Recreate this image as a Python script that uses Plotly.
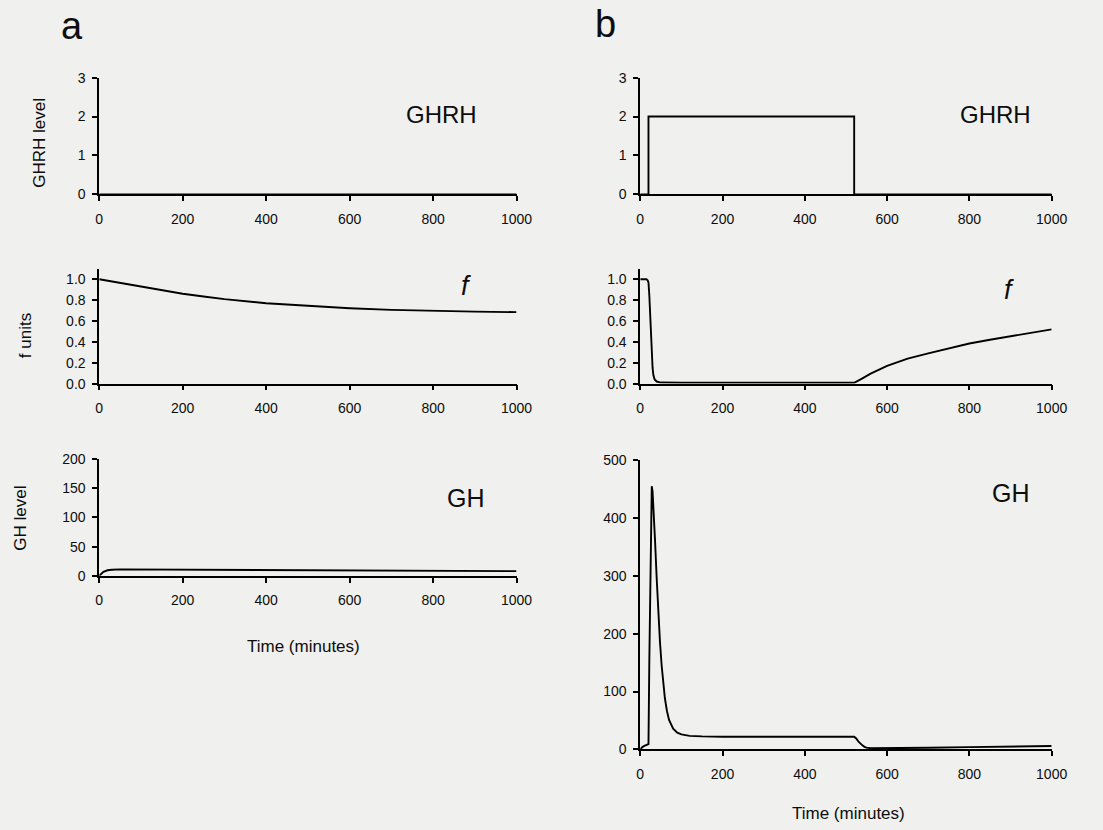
import plotly.graph_objects as go

W, H = 1103, 830

# ---- data -------------------------------------------------------------
# (a) no GHRH input
t_a_ghrh = [0, 1000]
ghrh_a = [0, 0]

t_a_f = [0, 50, 100, 150, 200, 250, 300, 400, 500, 600, 700, 800, 900, 1000]
f_a = [1.0, 0.965, 0.93, 0.895, 0.862, 0.835, 0.81, 0.77, 0.745, 0.723, 0.707, 0.697, 0.69, 0.685]

t_a_gh = [0, 5, 10, 20, 30, 50, 100, 200, 400, 600, 800, 1000]
gh_a = [0, 4.5, 7, 9.5, 10.5, 11, 10.8, 10.2, 9.5, 8.9, 8.4, 8.0]

# (b) GHRH pulse of level 2 from t=20 to t=520
t_b_ghrh = [0, 20, 20, 520, 520, 1000]
ghrh_b = [0, 0, 2, 2, 0, 0]

t_b_f = [0, 15, 18, 20, 22, 24, 26, 28, 30, 32, 35, 40, 50, 100, 520, 540, 560,
         600, 650, 700, 750, 800, 850, 900, 950, 1000]
f_b = [1.0, 1.0, 0.99, 0.97, 0.85, 0.65, 0.45, 0.28, 0.15, 0.08, 0.04, 0.02, 0.01,
       0.008, 0.008, 0.05, 0.095, 0.17, 0.24, 0.29, 0.34, 0.385, 0.42, 0.455, 0.49, 0.52]

t_b_gh = [0, 5, 10, 15, 20, 22, 24, 26, 28, 30, 32, 36, 40, 44, 48, 52, 56, 60, 65,
          70, 80, 90, 100, 120, 150, 200, 520, 525, 530, 535, 540, 545, 550, 560,
          600, 700, 800, 900, 1000]
gh_b = [0, 4, 6, 8, 9, 150, 290, 410, 455, 445, 420, 360, 295, 235, 185, 145, 112,
        88, 66, 51, 36, 29, 26, 23.5, 22.5, 22, 22, 19, 14, 10, 7, 4.5, 3, 2, 2, 3,
        4, 5, 6]

x_ticks = [0, 200, 400, 600, 800, 1000]

# ---- layout helpers (pixel positions -> paper fractions) -------------
def px_x(x):
    return x / W

def px_y(y):
    return 1 - y / H

LEFT = (97, 522)
RIGHT = (648, 1067)
ROWS_A = [(71, 190), (266, 383), (460, 579)]
ROWS_B = [(71, 190), (266, 383), (461, 756)]

FONT = "Arial, Liberation Sans, Helvetica, sans-serif"
BG = "#f0f0ee"
INK = "#0d0d0d"
TICK_SIZE = 14

fig = go.Figure()

panels = [
    # (xcols, rows, t, v, yrange, ytickvals, ytickformat)
    (LEFT, ROWS_A[0], t_a_ghrh, ghrh_a, [0, 3], [0, 1, 2, 3], None),
    (LEFT, ROWS_A[1], t_a_f, f_a, [0, 1.1], [0, 0.2, 0.4, 0.6, 0.8, 1.0], ".1f"),
    (LEFT, ROWS_A[2], t_a_gh, gh_a, [0, 200], [0, 50, 100, 150, 200], None),
    (RIGHT, ROWS_B[0], t_b_ghrh, ghrh_b, [0, 3], [0, 1, 2, 3], None),
    (RIGHT, ROWS_B[1], t_b_f, f_b, [0, 1.1], [0, 0.2, 0.4, 0.6, 0.8, 1.0], ".1f"),
    (RIGHT, ROWS_B[2], t_b_gh, gh_b, [0, 500], [0, 100, 200, 300, 400, 500], None),
]

for i, (xc, yr, t, v, rng, yt, fmt) in enumerate(panels, start=1):
    xa = "x" if i == 1 else f"x{i}"
    ya = "y" if i == 1 else f"y{i}"
    fig.add_trace(go.Scatter(x=t, y=v, mode="lines", xaxis=xa, yaxis=ya,
                             line=dict(color="black", width=1.9),
                             showlegend=False, hoverinfo="skip"))
    xkey = "xaxis" if i == 1 else f"xaxis{i}"
    ykey = "yaxis" if i == 1 else f"yaxis{i}"
    fig.update_layout(**{
        xkey: dict(domain=[px_x(xc[0]), px_x(xc[1])], anchor=ya, range=[0, 1000],
                   tickvals=x_ticks, showline=True, linecolor="black", linewidth=1.7,
                   ticks="outside", ticklen=5, tickwidth=1.5, tickcolor="black",
                   ticklabelstandoff=6, showgrid=False, zeroline=False,
                   tickfont=dict(family=FONT, size=TICK_SIZE, color=INK)),
        ykey: dict(domain=[px_y(yr[1]), px_y(yr[0])], anchor=xa, range=rng,
                   tickvals=yt, tickformat=fmt, showline=True, linecolor="black",
                   linewidth=1.7, ticks="outside", ticklen=5, tickwidth=1.5,
                   tickcolor="black", ticklabelstandoff=4, showgrid=False,
                   zeroline=False,
                   tickfont=dict(family=FONT, size=TICK_SIZE, color=INK)),
    })

ann = []

def text(x, y, s, size, **kw):
    ann.append(dict(x=px_x(x), y=px_y(y), xref="paper", yref="paper", text=s,
                    xanchor="center", yanchor="middle", showarrow=False,
                    font=dict(family=FONT, size=size, color=INK), **kw))

def label(ax, t, v, s, size):
    ann.append(dict(x=t, y=v, xref=f"x{ax}" if ax > 1 else "x",
                    yref=f"y{ax}" if ax > 1 else "y", text=s, showarrow=False,
                    xanchor="center", yanchor="middle",
                    font=dict(family=FONT, size=size, color=INK)))

# panel letters
text(69, 18, "a", 38)
text(613, 16, "b", 38)

# series labels, placed in each panel's data coordinates
label(1, 821, 2.06, "GHRH", 24)
label(4, 864, 2.06, "GHRH", 24)
label(2, 878, 0.94, "<i>f</i>", 27)
label(5, 897, 0.90, "<i>f</i>", 27)
label(3, 880, 133, "GH", 25)
label(6, 900, 444, "GH", 25)

# y-axis titles (left column only)
text(36, 137, "GHRH level", 17, textangle=-90)
text(22, 334, "f units", 17, textangle=-90)
text(17, 520, "GH level", 17, textangle=-90)

# x-axis titles
text(305, 651, "Time (minutes)", 17)
text(860, 821, "Time (minutes)", 17)

fig.update_layout(width=W, height=H, margin=dict(l=0, r=0, t=0, b=0),
                  paper_bgcolor=BG, plot_bgcolor=BG, annotations=ann)

fig.write_html("out.html")
